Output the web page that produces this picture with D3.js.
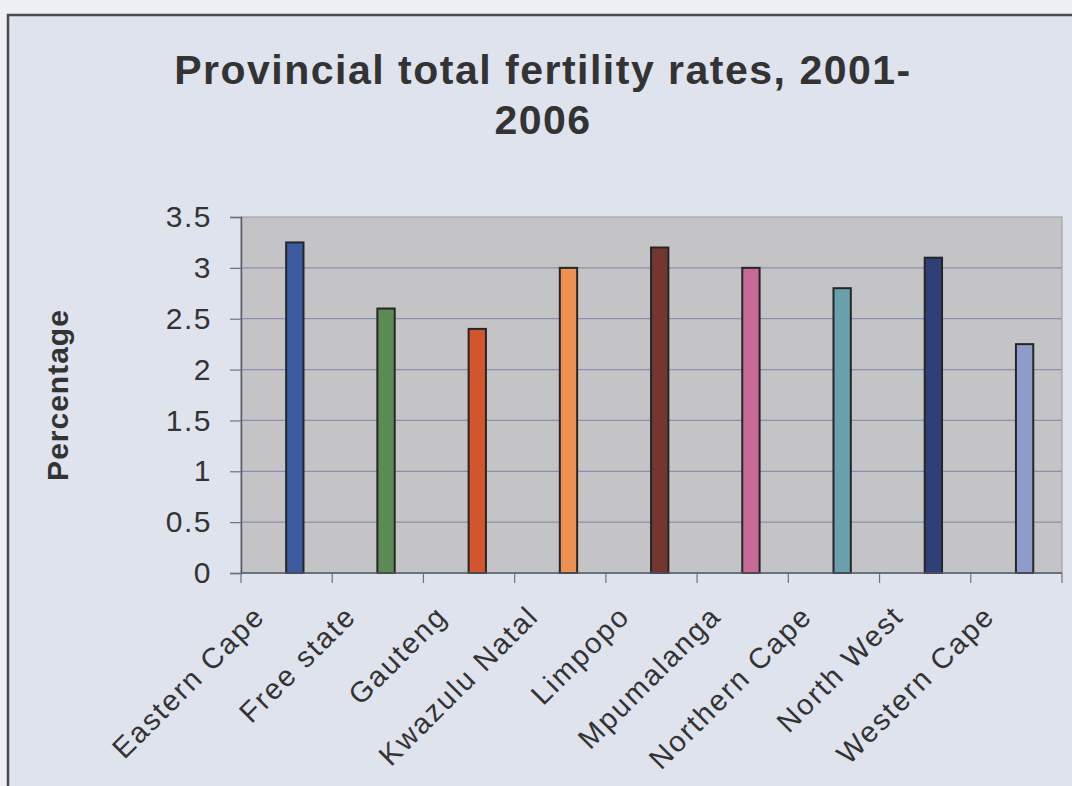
<!DOCTYPE html>
<html>
<head>
<meta charset="utf-8">
<script src="https://cdn.jsdelivr.net/npm/d3@7"></script>
<style>
  html, body { margin: 0; padding: 0; background: #eef0f5; }
  svg { display: block; }
  text { font-family: "Liberation Sans", Arial, sans-serif; fill: #333; }
</style>
</head>
<body>
<svg id="chart" width="1072" height="786"></svg>
<script>
// Provincial total fertility rates, 2001-2006
const provinces = ["Eastern Cape", "Free state", "Gauteng", "Kwazulu Natal", "Limpopo",
                   "Mpumalanga", "Northern Cape", "North West", "Western Cape"];
const rates = [3.25, 2.6, 2.4, 3.0, 3.2, 3.0, 2.8, 3.1, 2.25];
const barColors = ["#3b5aa0", "#5c8a55", "#d2552e", "#ee9050", "#74362e",
                   "#c86a98", "#6a9fae", "#2f3f78", "#8e9ccc"];
const yTicks = [0, 0.5, 1, 1.5, 2, 2.5, 3, 3.5];
const titleLines = ["Provincial total fertility rates, 2001-", "2006"];
const yTitle = "Percentage";

const svg = d3.select("#chart");

// chart frame
svg.append("rect")
  .attr("x", 8).attr("y", 15)
  .attr("width", 1100).attr("height", 800)
  .attr("fill", "#dfe3ee")
  .attr("stroke", "#4a4a4a").attr("stroke-width", 2.5);

const plot = { left: 241, right: 1062, top: 217, bottom: 573 };

const x = d3.scaleBand().domain(provinces).range([plot.left, plot.right]);
const y = d3.scaleLinear().domain([0, 3.5]).range([plot.bottom, plot.top]);
const bw = x.bandwidth();

// plot area
svg.append("rect")
  .attr("x", plot.left).attr("y", plot.top)
  .attr("width", plot.right - plot.left).attr("height", plot.bottom - plot.top)
  .attr("fill", "#c4c4c6")
  .attr("stroke", "#9a9a9e").attr("stroke-width", 1);

// horizontal gridlines
svg.append("g").selectAll("line")
  .data(yTicks.filter(t => t > 0 && t < 3.5))
  .join("line")
  .attr("x1", plot.left).attr("x2", plot.right)
  .attr("y1", d => y(d)).attr("y2", d => y(d))
  .attr("stroke", "#8790ac").attr("stroke-width", 1.2);

// bars
svg.append("g").selectAll("rect")
  .data(provinces)
  .join("rect")
  .attr("x", (d) => x(d) + bw * 0.495)
  .attr("width", bw * 0.19)
  .attr("y", (d, i) => y(rates[i]))
  .attr("height", (d, i) => y(0) - y(rates[i]))
  .attr("fill", (d, i) => barColors[i])
  .attr("stroke", "#262626").attr("stroke-width", 2);

// y axis
const yAxis = svg.append("g")
  .attr("transform", `translate(${plot.left},0)`)
  .call(d3.axisLeft(y).tickValues(yTicks).tickFormat(d3.format("~g"))
        .tickSize(11).tickPadding(18));
yAxis.select(".domain").attr("stroke", "#555a66").attr("stroke-width", 1.5);
yAxis.selectAll(".tick line").attr("stroke", "#6a7088").attr("stroke-width", 1.2);
yAxis.selectAll(".tick text")
  .attr("font-size", 30).attr("letter-spacing", 1.5)
  .attr("font-family", "Liberation Sans, Arial, sans-serif")
  .attr("fill", "#333");

// x axis: ticks on category boundaries
const bounds = provinces.map(p => x(p)).concat([plot.right]);
svg.append("line")
  .attr("x1", plot.left).attr("x2", plot.right)
  .attr("y1", plot.bottom).attr("y2", plot.bottom)
  .attr("stroke", "#555a66").attr("stroke-width", 1.5);
svg.append("g").selectAll("line")
  .data(bounds)
  .join("line")
  .attr("x1", d => d).attr("x2", d => d)
  .attr("y1", plot.bottom).attr("y2", plot.bottom + 10)
  .attr("stroke", "#6a7088").attr("stroke-width", 1.2);

// category labels, rotated
svg.append("g").selectAll("text")
  .data(provinces)
  .join("text")
  .attr("transform", d => `translate(${x(d) + bw / 2 - 20},${plot.bottom + 45}) rotate(-45)`)
  .attr("text-anchor", "end")
  .attr("font-size", 29)
  .attr("letter-spacing", 2)
  .text(d => d);

// title
svg.append("g").selectAll("text")
  .data(titleLines)
  .join("text")
  .attr("x", 543)
  .attr("y", (d, i) => 84 + i * 50)
  .attr("text-anchor", "middle")
  .attr("font-size", 41)
  .attr("font-weight", "bold")
  .attr("letter-spacing", 1.5)
  .text(d => d);

// y axis title
svg.append("text")
  .attr("transform", `translate(68,${(plot.top + plot.bottom) / 2}) rotate(-90)`)
  .attr("text-anchor", "middle")
  .attr("font-size", 30)
  .attr("font-weight", "bold")
  .attr("letter-spacing", 1)
  .text(yTitle);
</script>
</body>
</html>
